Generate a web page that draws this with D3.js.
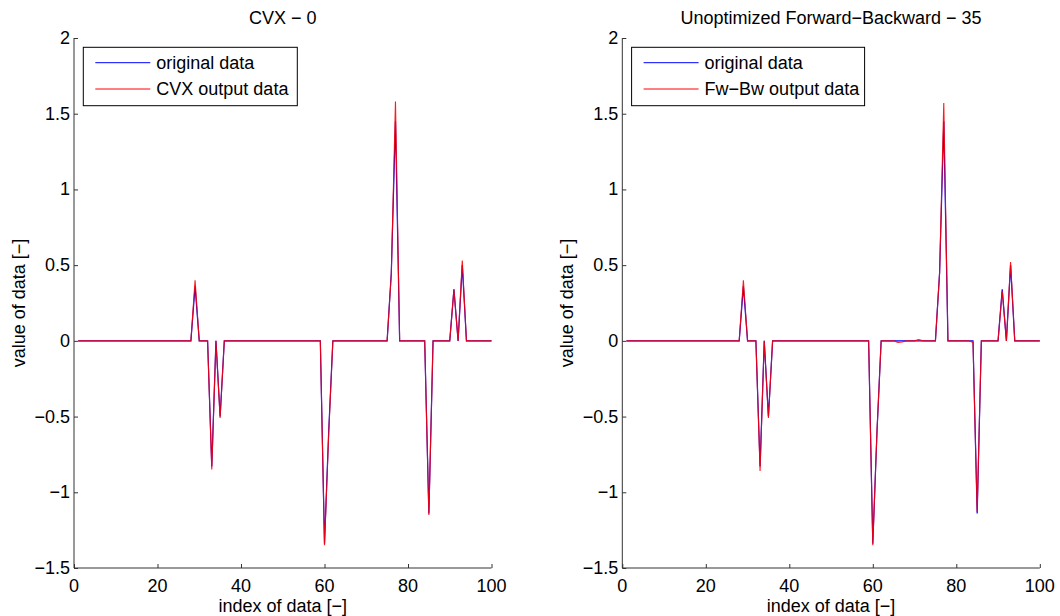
<!DOCTYPE html>
<html>
<head>
<meta charset="utf-8">
<script src="https://d3js.org/d3.v7.min.js"></script>
<style>
    body{ margin:0; background:#fff; }
    text{ font-family: "Liberation Sans", Arial, Helvetica, sans-serif; font-size:18px; fill:#000; }
    .axis path, .axis line{ stroke:#333; }
</style>
</head>
<body>
<svg id="chart" width="1060" height="616"></svg>
<script>
    // index 1..100
    let xIndex = [
        1,2,3,4,5,6,7,8,9,10, 11,12,13,14,15,16,17,18,19,20,
        21,22,23,24,25,26,27,28,29,30, 31,32,33,34,35,36,37,38,39,40,
        41,42,43,44,45,46,47,48,49,50, 51,52,53,54,55,56,57,58,59,60,
        61,62,63,64,65,66,67,68,69,70, 71,72,73,74,75,76,77,78,79,80,
        81,82,83,84,85,86,87,88,89,90, 91,92,93,94,95,96,97,98,99,100
    ];

    let originalData = [
        0,0,0,0,0,0,0,0,0,0,
        0,0,0,0,0,0,0,0,0,0,
        0,0,0,0,0,0,0,0,0.36,0,
        0,0,-0.83,0,-0.5,0,0,0,0,0,
        0,0,0,0,0,0,0,0,0,0,
        0,0,0,0,0,0,0,0,0,-1.34,
        -0.6,0,0,0,0,0,0,0,0,0,
        0,0,0,0,0,0.45,1.45,0,0,0,
        0,0,0,0,-1.14,0,0,0,0,0,
        0.34,0,0.5,0,0,0,0,0,0,0
    ];

    let cvxData = [
        0,0,0,0,0,0,0,0,0,0,
        0,0,0,0,0,0,0,0,0,0,
        0,0,0,0,0,0,0,0,0.40,0,
        0,0,-0.85,0,-0.51,0,0,0,0,0,
        0,0,0,0,0,0,0,0,0,0,
        0,0,0,0,0,0,0,0,0,-1.35,
        -0.62,0,0,0,0,0,0,0,0,0,
        0,0,0,0,0,0.44,1.58,0,0,0,
        0,0,0,0,-1.15,0,0,0,0,0,
        0.34,0,0.53,0,0,0,0,0,0,0
    ];

    let fwbwData = [
        0,0,0,0,0,0,0,0,0,0,
        0,0,0,0,0,0,0,0,0,0,
        0,0,0,0,0,0,0,0,0.40,0,
        0,0,-0.86,0,-0.51,0,0,0,0,0,
        0,0,0,0,0,0,0,0,0,0,
        0,0,0,0,0,0,0,0,0,-1.35,
        -0.6,0,0,0,0,-0.01,-0.008,0,0,0,
        0.008,0,0,0,0,0.45,1.57,0,0,0,
        0,0,0,-0.01,-1.13,0,0,0,0,0,
        0.33,0,0.52,0,0,0,0,0,0,0
    ];

    let xTicks = [0, 20, 40, 60, 80, 100];
    let yTicks = [-1.5, -1, -0.5, 0, 0.5, 1, 1.5, 2];

    let panels = [
        {title: 'CVX \u2212 0', label: 'CVX output data', out: cvxData, left: 74, legendW: 214},
        {title: 'Unoptimized Forward\u2212Backward \u2212 35', label: 'Fw\u2212Bw output data', out: fwbwData, left: 622.3, legendW: 233}
    ];

    let svg = d3.select('#chart');
    let plotW = 417.5, yTop = 38, yBottom = 568;
    let fmt = d => d3.format('')(d).replace('-', '\u2212');

    panels.forEach(p => {
        let xScale = d3.scaleLinear().domain([0, 100]).range([p.left, p.left + plotW]);
        let yScale = d3.scaleLinear().domain([-1.5, 2]).range([yBottom, yTop]);

        let g = svg.append('g');

        // axes (box off)
        g.append('g').attr('class', 'axis')
            .attr('transform', `translate(0,${yBottom})`)
            .call(d3.axisTop(xScale).tickValues(xTicks).tickSize(4).tickFormat(''))
            .call(a => a.select('.domain').attr('d', `M${p.left},0H${p.left + plotW}`));
        g.append('g').attr('class', 'axis')
            .attr('transform', `translate(${p.left},0)`)
            .call(d3.axisRight(yScale).tickValues(yTicks).tickSize(4).tickFormat(''))
            .call(a => a.select('.domain').attr('d', `M0,${yTop}V${yBottom}`));

        // tick labels
        g.selectAll('.xl').data(xTicks).enter().append('text')
            .attr('x', d => xScale(d)).attr('y', 592)
            .attr('text-anchor', 'middle').text(fmt);
        g.selectAll('.yl').data(yTicks).enter().append('text')
            .attr('x', p.left - 4).attr('y', d => yScale(d) + 6)
            .attr('text-anchor', 'end').text(fmt);

        // lines
        let line = d3.line().x((d, i) => xScale(xIndex[i])).y(d => yScale(d));
        g.append('path').datum(originalData).attr('d', line)
            .attr('fill', 'none').attr('stroke', '#0000ff').attr('stroke-width', 1.2);
        g.append('path').datum(p.out).attr('d', line)
            .attr('fill', 'none').attr('stroke', '#ff0000').attr('stroke-width', 1.1).attr('stroke-opacity', 0.9);

        // title and labels
        let cx = p.left + plotW / 2;
        g.append('text').attr('x', cx).attr('y', 24).attr('text-anchor', 'middle').text(p.title);
        g.append('text').attr('x', cx).attr('y', 612).attr('text-anchor', 'middle').text('index of data [\u2212]');
        g.append('text')
            .attr('transform', `translate(${p.left - 49},${(yTop + yBottom) / 2}) rotate(-90)`)
            .attr('text-anchor', 'middle').text('value of data [\u2212]');

        // legend
        let lx = p.left + 9.3, ly = 47.3;
        let leg = g.append('g');
        leg.append('rect').attr('x', lx).attr('y', ly).attr('width', p.legendW).attr('height', 58.4)
            .attr('fill', '#fff').attr('stroke', '#000').attr('stroke-width', 1);
        [['original data', '#0000ff'], [p.label, '#ff0000']].forEach((e, i) => {
            let yy = ly + 15.4 + i * 26.3;
            leg.append('line').attr('x1', lx + 12).attr('x2', lx + 67).attr('y1', yy).attr('y2', yy)
                .attr('stroke', e[1]).attr('stroke-width', 1);
            leg.append('text').attr('x', lx + 73).attr('y', yy + 6).text(e[0]);
        });
    });
</script>
</body>
</html>
